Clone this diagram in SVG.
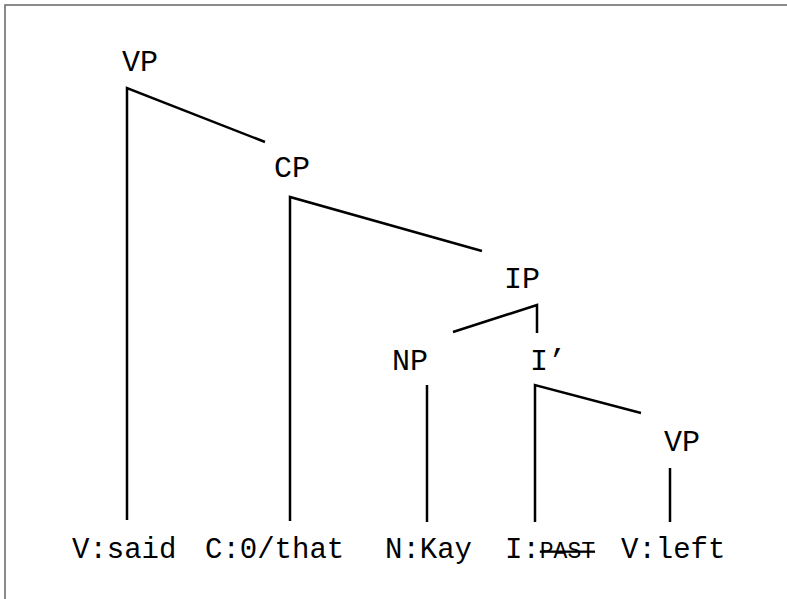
<svg xmlns="http://www.w3.org/2000/svg" width="787" height="599" viewBox="0 0 787 599">
<style>
.t{font-family:"Liberation Mono","Courier New",monospace;font-size:29px;fill:#000}
.lab{font-family:"Liberation Mono","Courier New",monospace;font-size:30px;fill:#000}
.sc{font-size:23px;text-decoration:line-through}
.e{fill:none;stroke:#000;stroke-width:2.5;stroke-linejoin:miter}
.frame{fill:none;stroke:#666;stroke-width:1.5}
</style>
<rect width="787" height="599" fill="#fff"/>
<path class="frame" d="M5,599 V5 H787"/>
<g id="connectors">
<path class="e" d="M127,520 V88 L265,142"/>
<path class="e" d="M290,521 V197 L482,251"/>
<path class="e" d="M453,332 L537,305 V333"/>
<path class="e" d="M427,385 V522"/>
<path class="e" d="M535,522 V385 L641,413"/>
<path class="e" d="M670,468 V522"/>
</g>
<g id="VP1"><text class="lab" x="122" y="71">VP</text></g>
<g id="CP"><text class="lab" x="274" y="177">CP</text></g>
<g id="IP"><text class="lab" x="504" y="288">IP</text></g>
<g id="NP"><text class="lab" x="392" y="370">NP</text></g>
<g id="Ibar"><text class="lab" x="530" y="370">I’</text></g>
<g id="VP2"><text class="lab" x="664" y="451">VP</text></g>
<g id="said"><text class="t" x="72" y="558">V:said</text></g>
<g id="that"><text class="t" x="205" y="558">C:0/that</text></g>
<g id="Kay"><text class="t" x="385" y="558">N:Kay</text></g>
<g id="past"><text class="t" x="505" y="558">I:<tspan class="sc">PAST</tspan></text></g>
<g id="left"><text class="t" x="621" y="558">V:left</text></g>
</svg>
